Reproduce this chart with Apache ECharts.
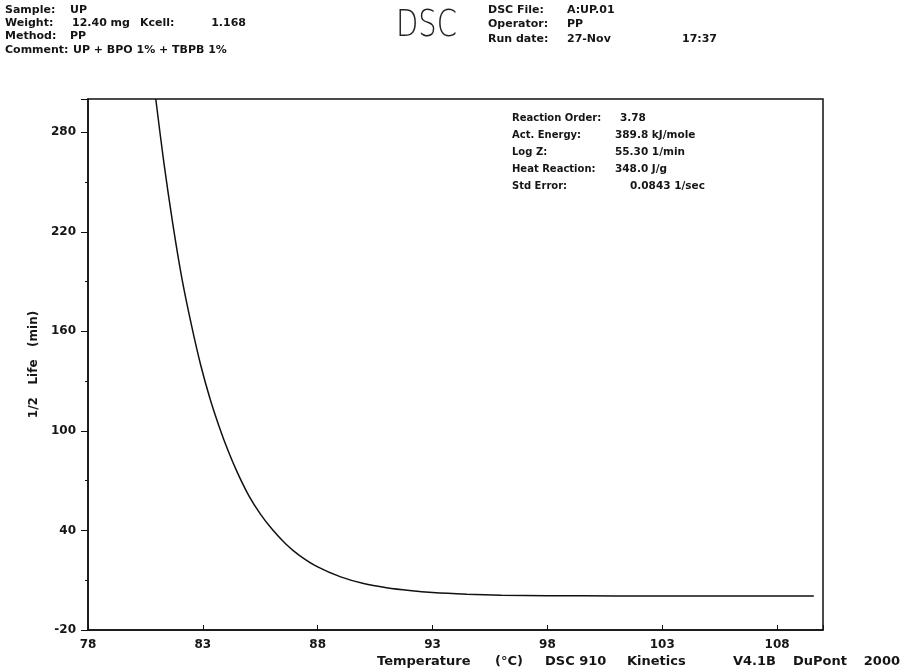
<!DOCTYPE html>
<html>
<head>
<meta charset="utf-8">
<script src="https://cdn.jsdelivr.net/npm/echarts@6/dist/echarts.min.js"></script>
<style>html,body{margin:0;padding:0;background:#fff}#c{width:902px;height:672px}</style>
</head>
<body>
<div id="c"></div>
<script>
// Data
const temperature = [80.95, 81.3, 81.7, 82.1, 82.5, 82.9, 83.3, 83.7, 84.1, 84.5, 85.0, 85.5, 86.0, 86.6, 87.2, 88.0, 89.0, 90.0, 91.0, 92.0, 93.0, 94.5, 96.0, 98.0, 101.0, 105.0, 109.6];
const halfLife    = [300, 262, 224, 191, 164, 140, 120, 103, 88, 75, 61, 50, 41, 32, 25, 18, 12, 8, 5.5, 3.8, 2.6, 1.6, 1.0, 0.7, 0.5, 0.5, 0.5];
const xTickLabels = [78, 83, 88, 93, 98, 103, 108];
const yTickLabels = [-20, 40, 100, 160, 220, 280];
const resultNames  = ['Reaction Order:', 'Act. Energy:', 'Log Z:', 'Heat Reaction:', 'Std Error:'];
const resultValues = ['3.78', '389.8 kJ/mole', '55.30 1/min', '348.0 J/g', '0.0843 1/sec'];

const FONT = '"DejaVu Sans", sans-serif';
function txt(s, x, y, size, align) {
  const el = {
    type: 'text', top: y,
    style: { text: s, font: 'bold ' + size + 'px ' + FONT, fill: '#151515' }
  };
  if (align === 'right') { el.right = 902 - x; } else { el.left = x; }
  return el;
}
const graphics = [
  txt('Sample:', 5, 5, 11), txt('UP', 70, 5, 11),
  txt('Weight:', 5, 18, 11), txt('12.40 mg', 72, 18, 11), txt('Kcell:', 140, 18, 11), txt('1.168', 246, 18, 11, 'right'),
  txt('Method:', 5, 31, 11), txt('PP', 70, 31, 11),
  txt('Comment:', 5, 45, 11), txt('UP + BPO 1% + TBPB 1%', 73, 45, 11),
  txt('DSC File:', 488, 5, 11), txt('A:UP.01', 567, 5, 11),
  txt('Operator:', 488, 19, 11), txt('PP', 567, 19, 11),
  txt('Run date:', 488, 34, 11), txt('27-Nov', 567, 34, 11), txt('17:37', 682, 34, 11),
  { type: 'text', left: 396, top: 7, scaleY: 1.3,
    style: { text: 'DSC', font: '200 29px "DejaVu Sans", sans-serif', fill: '#222' } },
  txt('Temperature', 377, 655, 13), txt('(°C)', 495, 655, 13),
  txt('DSC 910', 545, 655, 13), txt('Kinetics', 627, 655, 13), txt('V4.1B', 733, 655, 13),
  txt('DuPont', 793, 655, 13), txt('2000', 900, 655, 13, 'right')
];
resultNames.forEach((n, i) => {
  graphics.push(txt(n, 512, 113 + i * 17, 10));
  graphics.push(txt(resultValues[i], i === 0 ? 620 : (i === 4 ? 630 : 615), 113 + i * 17, 10.5));
});

const chart = echarts.init(document.getElementById('c'));
chart.setOption({
  backgroundColor: '#fff',
  animation: false,
  grid: { left: 88, right: 79, top: 99, bottom: 42, show: true, borderColor: '#111', borderWidth: 1.5 },
  xAxis: {
    type: 'value', min: 78, max: 110, interval: 5,
    axisLine: { onZero: false, lineStyle: { color: '#111', width: 1.5 } },
    axisTick: { inside: true, length: 5, lineStyle: { color: '#111' } },
    splitLine: { show: false },
    axisLabel: { margin: 9, color: '#151515', fontFamily: FONT, fontWeight: 'bold', fontSize: 12,
      formatter: v => xTickLabels.includes(v) ? String(v) : '' }
  },
  yAxis: {
    type: 'value', min: -20, max: 300, interval: 60,
    name: '1/2   Life   (min)', nameLocation: 'middle', nameGap: 47, nameRotate: 90,
    nameTextStyle: { color: '#151515', fontFamily: FONT, fontWeight: 'bold', fontSize: 12 },
    axisLine: { onZero: false, lineStyle: { color: '#111', width: 1.5 } },
    axisTick: { inside: false, length: 7, lineStyle: { color: '#111' } },
    minorTick: { show: true, splitNumber: 2, length: 3, lineStyle: { color: '#111' } },
    splitLine: { show: false },
    axisLabel: { margin: 12, color: '#151515', fontFamily: FONT, fontWeight: 'bold', fontSize: 12,
      formatter: v => yTickLabels.includes(v) ? String(v) : '' }
  },
  series: [{
    type: 'line', data: temperature.map((t, i) => [t, halfLife[i]]),
    smooth: 0.3, showSymbol: false, clip: true,
    lineStyle: { color: '#111', width: 1.5 }
  }],
  graphic: graphics
});
</script>
</body>
</html>
